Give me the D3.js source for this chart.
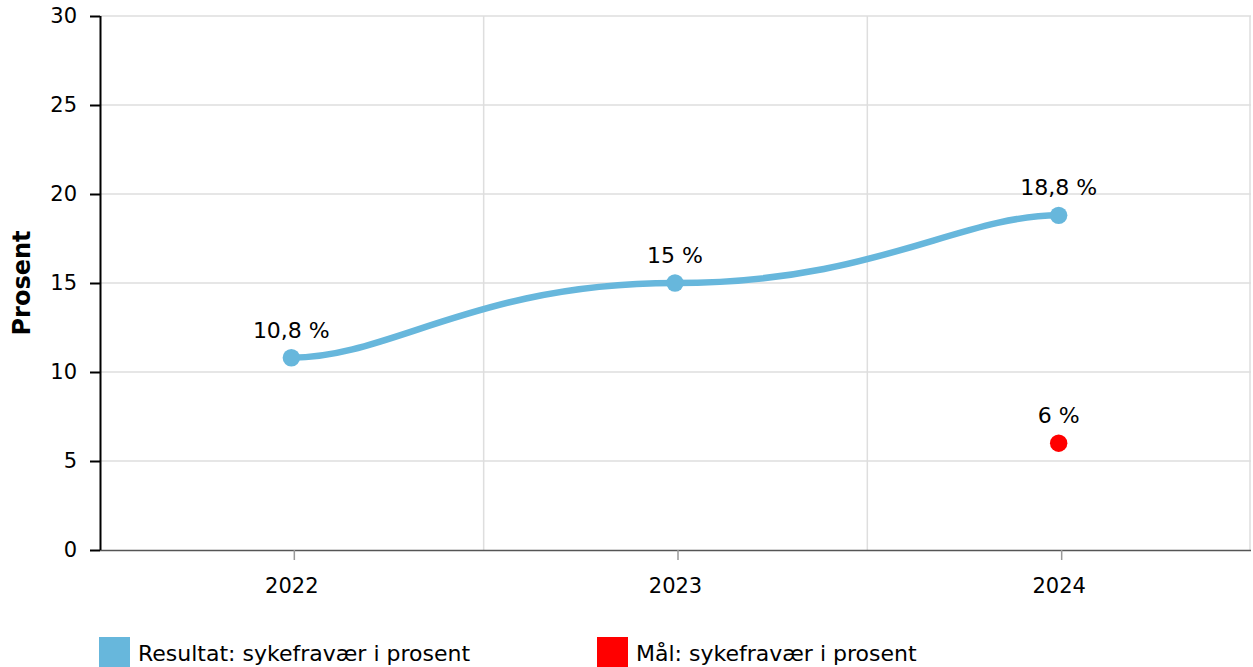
<!DOCTYPE html>
<html>
<head>
<meta charset="utf-8">
<script src="https://cdn.jsdelivr.net/npm/d3@7"></script>
<style>
  body { margin: 0; background: #fff; }
  svg { display: block; font-family: "DejaVu Sans", Verdana, sans-serif; }
</style>
</head>
<body>
<div id="chart"></div>
<script>
const years = ["2022", "2023", "2024"];
const resultat = [10.8, 15, 18.8];
const maalYears = ["2024"];
const maal = [6];
const yTicks = [0, 5, 10, 15, 20, 25, 30];
const seriesNames = ["Resultat: sykefravær i prosent", "Mål: sykefravær i prosent"];
const seriesColors = ["#67b7dc", "#ff0000"];

const width = 1253, height = 667;
const margin = {top: 16, right: 2, bottom: 117, left: 100};

const fmt = v => String(v).replace(".", ",") + " %";

// smoothing with separate x / y tension (flat in y at each point)
function curveTension(tx, ty) {
  return function(context) {
    let pts;
    return {
      areaStart() {}, areaEnd() {},
      lineStart() { pts = []; },
      point(px, py) { pts.push([+px, +py]); },
      lineEnd() {
        if (!pts.length) return;
        let ax = 1 - tx, ay = 1 - ty;
        context.moveTo(pts[0][0], pts[0][1]);
        for (let i = 0; i < pts.length - 1; i++) {
          let p0 = pts[Math.max(i - 1, 0)], p1 = pts[i], p2 = pts[i + 1],
              p3 = pts[Math.min(i + 2, pts.length - 1)];
          context.bezierCurveTo(
            p1[0] + (p2[0] - p0[0]) * ax, p1[1] + (p2[1] - p0[1]) * ay,
            p2[0] - (p3[0] - p1[0]) * ax, p2[1] - (p3[1] - p1[1]) * ay,
            p2[0], p2[1]);
        }
      }
    };
  };
}

const svg = d3.select("#chart").append("svg")
    .attr("width", width)
    .attr("height", height);

let x = d3.scaleBand()
    .domain(years)
    .range([margin.left, width - margin.right]);

let y = d3.scaleLinear()
    .domain([0, 30])
    .range([height - margin.bottom, margin.top]);

const cx = d => x(d) + x.bandwidth() / 2 - 0.5;

// horizontal grid
svg.append("g")
  .selectAll("line")
  .data(yTicks.slice(1))
  .enter().append("line")
    .attr("x1", margin.left)
    .attr("x2", width - margin.right)
    .attr("y1", d => y(d))
    .attr("y2", d => y(d))
    .attr("stroke", "#dedede")
    .attr("stroke-width", 1.5);

// vertical grid at band edges
svg.append("g")
  .selectAll("line")
  .data(years.slice(1).map(d => x(d)).concat([width - margin.right - 1]))
  .enter().append("line")
    .attr("x1", d => d)
    .attr("x2", d => d)
    .attr("y1", margin.top)
    .attr("y2", height - margin.bottom)
    .attr("stroke", "#dedede")
    .attr("stroke-width", 1.5);

// x axis
svg.append("g")
    .attr("transform", `translate(0, ${height - margin.bottom})`)
    .call(d3.axisBottom(x).tickSize(10).tickPadding(18))
    .call(g => g.select(".domain").attr("stroke", "#555").attr("stroke-width", 1.5).attr("d", `M${margin.left},0.5H${width - margin.right}`))
    .call(g => g.selectAll(".tick line").attr("stroke", "#999").attr("stroke-width", 1.5).attr("transform", "translate(2.5,0)"))
    .call(g => g.selectAll(".tick text")
        .style("font-family", "DejaVu Sans, Verdana, sans-serif")
        .style("font-size", "21px")
        .attr("fill", "#000"));

// y axis
svg.append("g")
    .attr("transform", `translate(${margin.left}, 0)`)
    .call(d3.axisLeft(y).tickValues(yTicks).tickSize(10).tickPadding(13))
    .call(g => g.select(".domain").attr("stroke", "#000").attr("stroke-width", 2).attr("d", `M0.5,${margin.top}V${height - margin.bottom}`))
    .call(g => g.selectAll(".tick line").attr("stroke", "#000").attr("stroke-width", 2))
    .call(g => g.selectAll(".tick text")
        .style("font-family", "DejaVu Sans, Verdana, sans-serif")
        .style("font-size", "21px")
        .attr("fill", "#000"));

svg.append("text")
    .attr("transform", `translate(30, ${(margin.top + height - margin.bottom) / 2}) rotate(-90)`)
    .attr("text-anchor", "middle")
    .style("font-size", "24px")
    .style("font-weight", "bold")
    .text("Prosent");

// result line
let line = d3.line()
    .x((d, i) => cx(years[i]))
    .y(d => y(d))
    .curve(curveTension(0.74, 1));

svg.append("path")
    .datum(resultat)
    .attr("fill", "none")
    .attr("stroke", seriesColors[0])
    .attr("stroke-width", 6.5)
    .attr("stroke-linecap", "round")
    .attr("d", line);

svg.append("g")
  .selectAll("circle")
  .data(resultat)
  .enter().append("circle")
    .attr("cx", (d, i) => cx(years[i]))
    .attr("cy", d => y(d))
    .attr("r", 8.7)
    .attr("fill", seriesColors[0]);

svg.append("g")
  .selectAll("text")
  .data(resultat)
  .enter().append("text")
    .attr("x", (d, i) => cx(years[i]))
    .attr("y", d => y(d) - 20)
    .attr("text-anchor", "middle")
    .style("font-size", "22px")
    .text(d => fmt(d));

// target points
svg.append("g")
  .selectAll("circle")
  .data(maal)
  .enter().append("circle")
    .attr("cx", (d, i) => cx(maalYears[i]))
    .attr("cy", d => y(d))
    .attr("r", 8.7)
    .attr("fill", seriesColors[1]);

svg.append("g")
  .selectAll("text")
  .data(maal)
  .enter().append("text")
    .attr("x", (d, i) => cx(maalYears[i]))
    .attr("y", d => y(d) - 20)
    .attr("text-anchor", "middle")
    .style("font-size", "22px")
    .text(d => fmt(d));

// legend
let legendX = [99, 597];
let legend = svg.append("g")
  .selectAll("g")
  .data(seriesNames)
  .enter().append("g")
    .attr("transform", (d, i) => `translate(${legendX[i]}, 637)`);

legend.append("rect")
    .attr("width", 31)
    .attr("height", 31)
    .attr("fill", (d, i) => seriesColors[i]);

legend.append("text")
    .attr("x", 39)
    .attr("y", 23.5)
    .style("font-size", "22px")
    .text(d => d);
</script>
</body>
</html>
